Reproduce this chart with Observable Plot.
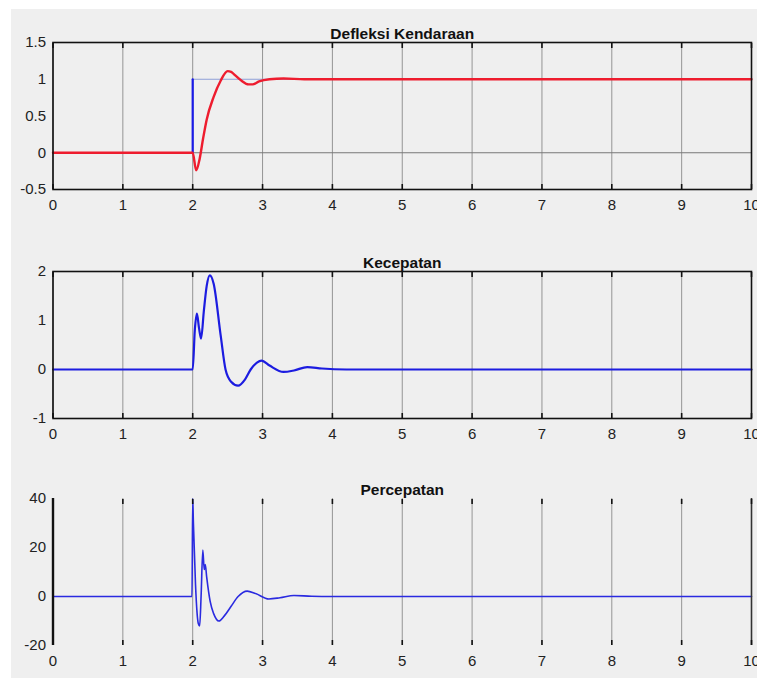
<!DOCTYPE html>
<html>
<head>
<meta charset="utf-8">
<script src="https://cdn.jsdelivr.net/npm/d3@7"></script>
<script src="https://cdn.jsdelivr.net/npm/@observablehq/plot@0.6"></script>
<style>
  html, body { margin: 0; padding: 0; background: #ffffff; }
  #fig { position: relative; width: 757px; height: 684px; overflow: hidden; background: #ffffff; }
  #panel { position: absolute; left: 11px; top: 9px; width: 746px; height: 669px; background: #efefef; }
  .sub { position: absolute; left: 0; }
  .sub svg { background: transparent !important; overflow: visible; }
</style>
</head>
<body>
<div id="fig"><div id="panel"></div></div>
<script>
// ---- data ----
const xTicks = [0, 1, 2, 3, 4, 5, 6, 7, 8, 9, 10];
const xLabels = ["0", "1", "2", "3", "4", "5", "6", "7", "8", "9", "10"];

const titles = ["Defleksi Kendaraan", "Kecepatan", "Percepatan"];

// Plot 1: Defleksi Kendaraan (step input + response)
const y1Ticks = [-0.5, 0, 0.5, 1, 1.5];
const y1Labels = ["-0.5", "0", "0.5", "1", "1.5"];
const stepT = [0, 2, 2, 10];
const stepV = [0, 0, 1, 1];
const defT = [0, 2.0, 2.05, 2.1, 2.15, 2.2, 2.3, 2.4, 2.5, 2.55, 2.6, 2.7, 2.8, 2.86, 2.95, 3.1, 3.3, 3.6, 4.0, 10];
const defV = [0, 0, -0.24, -0.08, 0.2, 0.45, 0.76, 0.98, 1.11, 1.1, 1.06, 0.98, 0.93, 0.93, 0.97, 1.0, 1.01, 1.0, 1.0, 1.0];

// Plot 2: Kecepatan
const y2Ticks = [-1, 0, 1, 2];
const y2Labels = ["-1", "0", "1", "2"];
const velT = [0, 2.0, 2.03, 2.06, 2.09, 2.12, 2.16, 2.2, 2.245, 2.3, 2.4, 2.47, 2.55, 2.65, 2.75, 2.83, 2.92, 2.985, 3.1, 3.3, 3.45, 3.64, 3.85, 4.2, 10];
const velV = [0, 0, 0.8, 1.14, 0.85, 0.63, 1.2, 1.7, 1.92, 1.75, 0.7, 0, -0.25, -0.33, -0.2, 0, 0.14, 0.18, 0.08, -0.05, -0.02, 0.05, 0.02, 0, 0];

// Plot 3: Percepatan
const y3Ticks = [-20, 0, 20, 40];
const y3Labels = ["-20", "0", "20", "40"];
const accT = [0, 1.99, 2.0, 2.01, 2.04, 2.08, 2.1, 2.12, 2.145, 2.165, 2.18, 2.2, 2.25, 2.3, 2.375, 2.45, 2.55, 2.65, 2.78, 2.9, 3.09, 3.25, 3.45, 3.7, 4.0, 10];
const accV = [0, 0, 40, 30, 5, -11, -12, 0, 19, 11, 13, 8, -2, -7, -10, -8, -4, 0, 2.2, 1.2, -1, -0.5, 0.4, 0.1, 0, 0];

// ---- helpers ----
const pts = (T, V) => T.map((t, i) => ({t, v: V[i]}));
const FONT = "'Liberation Sans', Arial, sans-serif";

function panel({title, yTicks, yLabels, yDomain, marks, box, top}) {
  const fmt = d => yLabels[yTicks.indexOf(d)];
  const xfmt = d => xLabels[xTicks.indexOf(d)];
  const boxMarks = box
    ? [Plot.frame({stroke: "#111", strokeWidth: 1.6})]
    : [Plot.ruleX([xTicks[0]], {stroke: "#111", strokeWidth: 2.4}),
       Plot.ruleX([xTicks[xTicks.length - 1]], {stroke: "#333", strokeWidth: 1.6})];
  const p = Plot.plot({
    width: 757,
    height: 220,
    marginLeft: 52.5,
    marginRight: 6,
    marginTop: 41,
    marginBottom: 32,
    style: {background: "transparent", fontFamily: FONT, fontSize: "15px", color: "#111"},
    x: {domain: [0, 10], label: null},
    y: {domain: yDomain, label: null},
    marks: [
      Plot.gridX(xTicks, {stroke: "#8a8a8a", strokeOpacity: 1, strokeWidth: 0.9}),
      ...marks,
      ...boxMarks,
      Plot.axisX(xTicks, {anchor: "bottom", tickSize: -5, strokeWidth: 1.6, stroke: "#111", tickFormat: xfmt, tickPadding: 15, fill: "#222", letterSpacing: "1.2px", fontSize: 15}),
      Plot.axisX(xTicks, {anchor: "top", tickSize: -5, strokeWidth: 1.6, stroke: "#111", text: null, label: null}),
      Plot.axisY(yTicks, {anchor: "left", tickSize: 0, tickPadding: 7, tickFormat: fmt, fill: "#222", letterSpacing: "1.2px", fontSize: 15}),
      Plot.text([title], {frameAnchor: "top", dy: -15, fontWeight: "bold", fontSize: 15.5, fill: "#111", letterSpacing: "1.3px"})
    ]
  });
  const wrap = document.createElement("div");
  wrap.className = "sub";
  wrap.style.top = top + "px";
  wrap.appendChild(p);
  document.getElementById("fig").appendChild(wrap);
}

panel({
  title: titles[0], yTicks: y1Ticks, yLabels: y1Labels, yDomain: [-0.5, 1.5], box: true, top: 1,
  marks: [
    Plot.ruleY([0], {stroke: "#777", strokeWidth: 1}),
    Plot.line(pts(stepT, stepV), {x: "t", y: "v", stroke: "#8fa0d8", strokeWidth: 1.2}),
    Plot.line(pts(stepT, stepV).slice(1, 3), {x: "t", y: "v", stroke: "#1a1ae6", strokeWidth: 2.2}),
    Plot.line(pts(defT, defV), {x: "t", y: "v", stroke: "#ee1c2e", strokeWidth: 2.4, curve: "monotone-x"})
  ]
});

panel({
  title: titles[1], yTicks: y2Ticks, yLabels: y2Labels, yDomain: [-1, 2], box: true, top: 230,
  marks: [
    Plot.line(pts(velT, velV), {x: "t", y: "v", stroke: "#1c1ce0", strokeWidth: 2.2, curve: "monotone-x"})
  ]
});

panel({
  title: titles[2], yTicks: y3Ticks, yLabels: y3Labels, yDomain: [-20, 40], box: false, top: 457,
  marks: [
    Plot.line(pts(accT, accV), {x: "t", y: "v", stroke: "#2a2ae0", strokeWidth: 1.6, curve: "monotone-x"})
  ]
});
</script>
</body>
</html>
